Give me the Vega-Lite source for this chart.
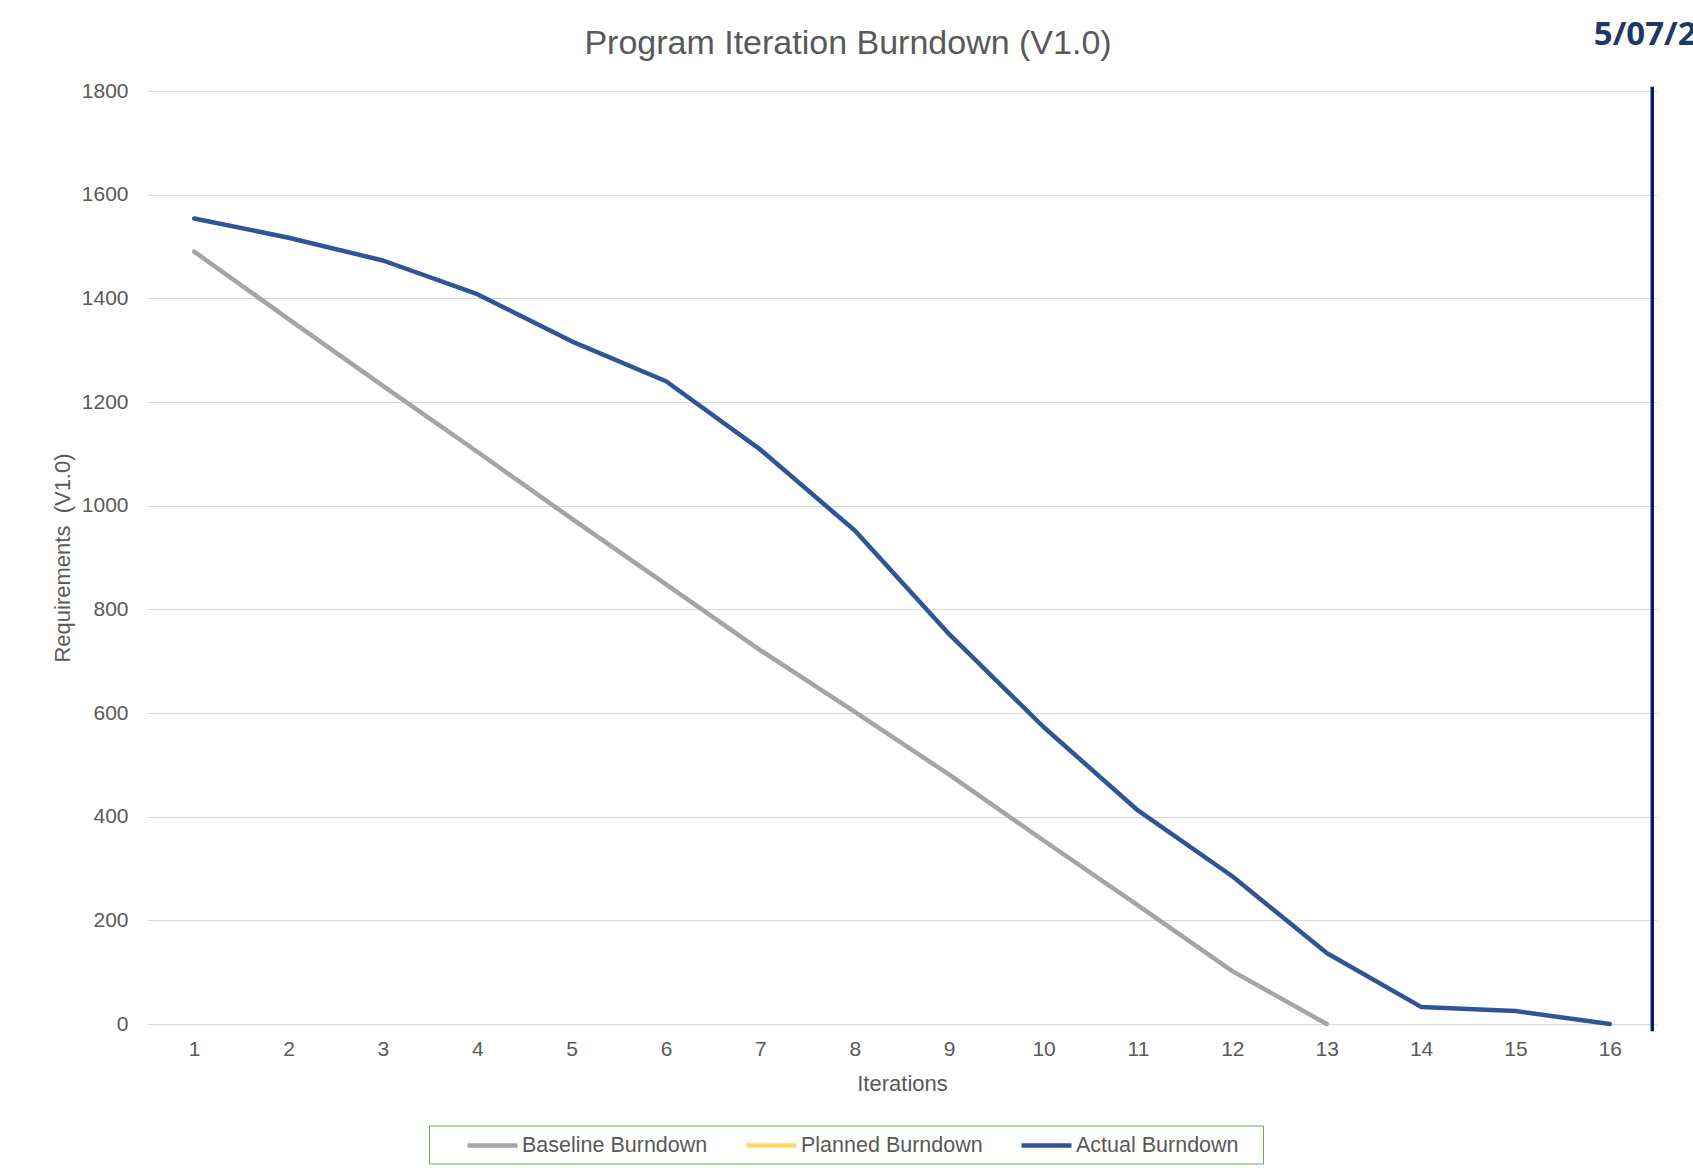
{
  "$schema": "https://vega.github.io/schema/vega-lite/v6.json",
  "width": 1510,
  "height": 933,
  "autosize": {"type": "none"},
  "padding": {"left": 147, "top": 91, "right": 36, "bottom": 147},
  "background": "white",
  "title": {
    "text": "Program Iteration Burndown (V1.0)",
    "fontSize": 34,
    "font": "Liberation Sans",
    "fontWeight": "normal",
    "color": "#595959",
    "anchor": "middle",
    "frame": "group",
    "dx": -54,
    "offset": -69,
    "baseline": "alphabetic"
  },
  "config": {"view": {"stroke": null}, "font": "Liberation Sans"},
  "layer": [
    {
      "data": {
        "values": [
          {"series": "Baseline Burndown", "iteration": 1, "value": 1490},
          {"series": "Baseline Burndown", "iteration": 2, "value": 1360},
          {"series": "Baseline Burndown", "iteration": 3, "value": 1231},
          {"series": "Baseline Burndown", "iteration": 4, "value": 1104},
          {"series": "Baseline Burndown", "iteration": 5, "value": 975},
          {"series": "Baseline Burndown", "iteration": 6, "value": 848},
          {"series": "Baseline Burndown", "iteration": 7, "value": 721},
          {"series": "Baseline Burndown", "iteration": 8, "value": 602},
          {"series": "Baseline Burndown", "iteration": 9, "value": 481},
          {"series": "Baseline Burndown", "iteration": 10, "value": 354},
          {"series": "Baseline Burndown", "iteration": 11, "value": 229},
          {"series": "Baseline Burndown", "iteration": 12, "value": 102},
          {"series": "Baseline Burndown", "iteration": 13, "value": 0},
          {"series": "Actual Burndown", "iteration": 1, "value": 1554},
          {"series": "Actual Burndown", "iteration": 2, "value": 1517},
          {"series": "Actual Burndown", "iteration": 3, "value": 1473},
          {"series": "Actual Burndown", "iteration": 4, "value": 1408},
          {"series": "Actual Burndown", "iteration": 5, "value": 1317},
          {"series": "Actual Burndown", "iteration": 6, "value": 1240},
          {"series": "Actual Burndown", "iteration": 7, "value": 1108},
          {"series": "Actual Burndown", "iteration": 8, "value": 952},
          {"series": "Actual Burndown", "iteration": 9, "value": 752},
          {"series": "Actual Burndown", "iteration": 10, "value": 573},
          {"series": "Actual Burndown", "iteration": 11, "value": 412},
          {"series": "Actual Burndown", "iteration": 12, "value": 285},
          {"series": "Actual Burndown", "iteration": 13, "value": 137},
          {"series": "Actual Burndown", "iteration": 14, "value": 33},
          {"series": "Actual Burndown", "iteration": 15, "value": 25},
          {"series": "Actual Burndown", "iteration": 16, "value": 0}
        ]
      },
      "mark": {"type": "line", "strokeWidth": 4.5, "strokeJoin": "round", "strokeCap": "round"},
      "encoding": {
        "x": {
          "field": "iteration",
          "type": "quantitative",
          "scale": {"domain": [0.5, 16.5], "nice": false, "zero": false},
          "axis": {
            "title": "Iterations",
            "format": "d",
            "values": [1, 2, 3, 4, 5, 6, 7, 8, 9, 10, 11, 12, 13, 14, 15, 16],
            "grid": false,
            "domain": false,
            "ticks": false,
            "tickSize": 0,
            "labelPadding": 25,
            "labelBaseline": "middle",
            "labelFontSize": 21,
            "labelColor": "#595959",
            "labelFont": "Liberation Sans",
            "titleFontSize": 22,
            "titleFont": "Liberation Sans",
            "titleFontWeight": "normal",
            "titleColor": "#595959",
            "titlePadding": 14
          }
        },
        "y": {
          "field": "value",
          "type": "quantitative",
          "scale": {"domain": [0, 1800], "nice": false},
          "axis": {
            "title": "Requirements\u00a0 (V1.0)",
            "format": "d",
            "values": [0, 200, 400, 600, 800, 1000, 1200, 1400, 1600, 1800],
            "grid": true,
            "gridColor": "#D9D9D9",
            "gridWidth": 1.2,
            "domain": false,
            "ticks": false,
            "tickSize": 0,
            "labelPadding": 19,
            "labelBaseline": "middle",
            "labelFontSize": 21,
            "labelColor": "#595959",
            "labelFont": "Liberation Sans",
            "titleFontSize": 22,
            "titleFont": "Liberation Sans",
            "titleFontWeight": "normal",
            "titleColor": "#595959",
            "titlePadding": 7
          }
        },
        "color": {
          "field": "series",
          "type": "nominal",
          "scale": {
            "domain": ["Baseline Burndown", "Planned Burndown", "Actual Burndown"],
            "range": ["#A5A5A5", "#FFD966", "#2F5597"]
          },
          "legend": {
            "orient": "none",
            "legendX": 282,
            "legendY": 1034.5,
            "direction": "horizontal",
            "title": "\u00a0",
            "titleOrient": "left",
            "titlePadding": 43.5,
            "titleFontSize": 21,
            "strokeColor": "#70AD47",
            "padding": 7.5,
            "symbolType": "M-2.5,0H2.5",
            "symbolSize": 400,
            "symbolStrokeWidth": 4.5,
            "labelFontSize": 21.5,
            "labelColor": "#595959",
            "labelFont": "Liberation Sans",
            "labelLimit": 500,
            "columnPadding": 29,
            "labelOffset": 17,
            "labelExpr": "datum.label == 'Actual Burndown' ? datum.label + '\u2800' : datum.label"
          }
        }
      }
    },
    {
      "data": {"values": [{"iteration": 16.45, "value": 1808, "value2": -14}]},
      "mark": {"type": "rule", "color": "#002060", "strokeWidth": 3.5},
      "encoding": {
        "x": {"field": "iteration", "type": "quantitative"},
        "y": {"field": "value", "type": "quantitative"},
        "y2": {"field": "value2"}
      }
    },
    {
      "data": {"values": [{"iteration": 15.83, "value": 1888, "label": "5/07/2024"}]},
      "mark": {"type": "text", "align": "left", "baseline": "alphabetic", "font": "Open Sans", "fontWeight": "bold", "fontSize": 33, "color": "#1F3864"},
      "encoding": {
        "x": {"field": "iteration", "type": "quantitative"},
        "y": {"field": "value", "type": "quantitative"},
        "text": {"field": "label"}
      }
    }
  ]
}
